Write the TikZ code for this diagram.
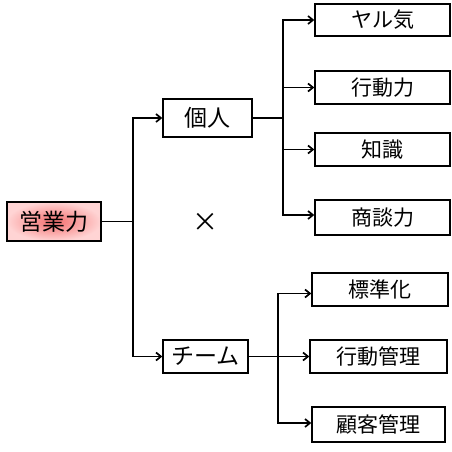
\documentclass[tikz,border=0pt]{standalone}
\usepackage{fontspec}
\newfontfamily\jp{Noto Sans CJK JP}
\usetikzlibrary{arrows.meta}
\definecolor{pinkin}{RGB}{244,110,110}
\definecolor{pinkout}{RGB}{255,212,212}
\begin{document}
\begin{tikzpicture}[x=1pt,y=-1pt,
  box/.style={draw=black,line width=1.3pt,fill=white,inner sep=0pt,font=\jp\fontsize{21}{22}\selectfont,anchor=center},
  bigbox/.style={box,font=\jp\fontsize{23}{24}\selectfont},
  conn/.style={line width=1.7pt},
  arr/.style={line width=1.7pt,-{Straight Barb[length=5pt,width=8pt]}}]
\useasboundingbox (0,0) rectangle (452,451);
% nodes
\node[bigbox,minimum width=94pt,minimum height=39pt,inner color=pinkin,outer color=pinkout] (eigyo) at (54,221.5) {営業力};
\node[bigbox,minimum width=89pt,minimum height=38pt] (kojin) at (207.5,118) {個人};
\node[bigbox,minimum width=85pt,minimum height=33pt] (team) at (205.5,356.5) {チーム};
\node[box,minimum width=135pt,minimum height=32pt] (yaruki) at (382.5,20) {ヤル気};
\node[box,minimum width=135pt,minimum height=33pt] (kodo) at (382.5,87.5) {行動力};
\node[box,minimum width=135pt,minimum height=33pt] (chishiki) at (382.5,149.5) {知識};
\node[box,minimum width=135pt,minimum height=35pt] (shodan) at (382.5,217.5) {商談力};
\node[box,minimum width=136pt,minimum height=33pt] (hyojun) at (380,289.5) {標準化};
\node[box,minimum width=137pt,minimum height=33pt] (kodokanri) at (378.5,356.5) {行動管理};
\node[box,minimum width=133pt,minimum height=35pt] (kokyaku) at (378.5,424.5) {顧客管理};
\node[font=\jp\fontsize{26}{26}\selectfont,inner sep=0pt] (times) at (205,222) {×};
% junction coordinates
\coordinate (j1) at (133,221.5);
\coordinate (j2) at (283,118);
\coordinate (j3) at (278,356.5);
% connectors
\draw[conn] (eigyo.east) -- (j1);
\draw[arr] (j1) |- (kojin.west);
\draw[arr] (j1) |- (team.west);
\draw[conn] (kojin.east) -- (j2);
\draw[arr] (j2) |- (yaruki.west);
\draw[arr] (j2) |- (kodo.west);
\draw[arr] (j2) |- (chishiki.west);
\draw[arr] (j2) |- ([yshift=2.5pt]shodan.west);
\draw[conn] (team.east) -- (j3);
\draw[arr] (j3) |- ([yshift=-4pt]hyojun.west);
\draw[arr] (j3) |- (kodokanri.west);
\draw[arr] (j3) |- ([yshift=1.5pt]kokyaku.west);
\end{tikzpicture}
\end{document}
